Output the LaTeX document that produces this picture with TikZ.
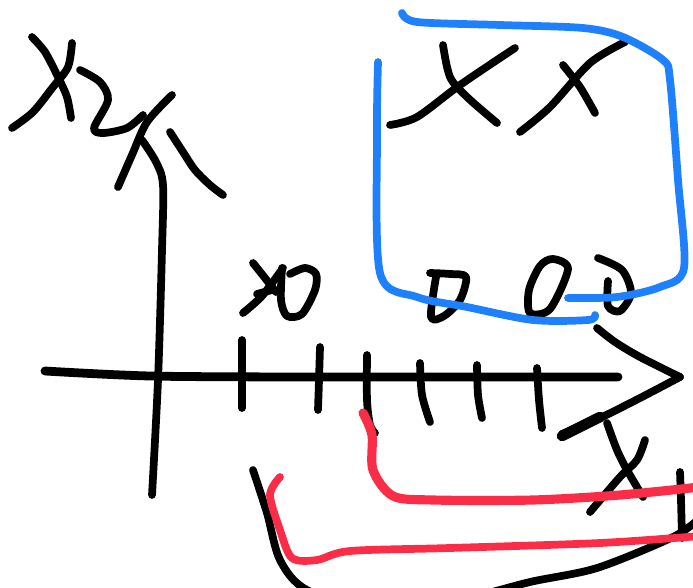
\documentclass[tikz,border=0pt]{standalone}
\usepackage{tikz}

\definecolor{penblue}{RGB}{30,128,250}
\definecolor{penred}{RGB}{250,45,72}

\begin{document}
\begin{tikzpicture}[x=0.02cm,y=-0.02cm,
  pen/.style={line width=4.4pt,line cap=round,line join=round},
  bluepen/.style={pen,penblue},
  redpen/.style={pen,penred}]
  \useasboundingbox (0,0) rectangle (693,588);
  \clip (0,0) rectangle (693,588);

  \draw[pen] plot[smooth] coordinates {(32,37) (45,52) (58,77) (67,97) (71,118)};
  \draw[pen] plot[smooth] coordinates {(72,43) (68,67) (53,87) (33,112) (12,128)};
  \draw[pen] plot[smooth] coordinates {(80,70) (100,82) (108,100) (94,128) (103,133) (127,128) (143,115)};

  \draw[pen] plot[smooth] coordinates {(172,95) (147,122) (132,155) (118,187)};
  \draw[pen] plot[smooth] coordinates {(142,140) (156,162) (163,185) (162,250) (158,380) (152,495)};
  \draw[pen] plot[smooth] coordinates {(170,132) (183,152) (195,170) (210,185) (223,195)};

  \draw[pen,line width=5pt] plot[smooth] coordinates {(45,371) (150,376) (300,377) (450,377) (618,377)};
  \draw[pen] plot[smooth] coordinates {(597,328) (615,342) (640,357) (680,377)};
  \draw[pen] plot[smooth] coordinates {(680,377) (640,398) (600,418) (562,434)};
  \draw[pen,line width=6pt] (600,417) -- (562,436);

  \draw[pen] (242,340) -- (242,408);
  \draw[pen] plot[smooth] coordinates {(320,347) (319,380) (318,410)};
  \draw[pen] plot[smooth] coordinates {(367,355) (367,400) (370,425) (375,433)};
  \draw[pen] plot[smooth] coordinates {(420,363) (422,395) (430,422)};
  \draw[pen] plot[smooth] coordinates {(477,365) (478,395) (482,418)};
  \draw[pen] plot[smooth] coordinates {(537,368) (539,400) (542,428)};

  \draw[pen] plot[smooth] coordinates {(253,263) (265,278) (276,292)};
  \draw[pen] plot[smooth] coordinates {(243,313) (262,296) (283,268)};
  \draw[pen] plot[smooth] coordinates {(257,294) (272,290)};
  \draw[pen] plot[smooth] coordinates {(282,268) (281,300) (287,316) (302,314) (315,290) (316,274) (305,268) (290,274)};

  \draw[pen] plot[smooth] coordinates {(443,45) (450,77) (467,97) (497,123)};
  \draw[pen] plot[smooth] coordinates {(515,48) (460,85) (417,117) (390,125)};
  \draw[pen] plot[smooth] coordinates {(563,65) (580,87) (595,113)};
  \draw[pen] plot[smooth] coordinates {(625,42) (590,63) (550,107) (520,132)};

  \draw[pen] plot[smooth] coordinates {(430,273) (450,274) (466,277) (460,300) (444,316) (431,317) (436,277)};
  \draw[pen] plot[smooth cycle] coordinates {(553,259) (568,269) (550,309) (530,313) (529,290) (540,266)};
  \draw[pen] plot[smooth] coordinates {(598,258) (622,270) (631,293) (620,311) (608,306) (608,281)};

  \draw[bluepen] plot[smooth] coordinates {(402,13) (417,22) (500,25) (583,28) (623,37) (663,60) (670,80) (678,180) (684,268) (660,287) (617,297) (568,298)};
  \draw[bluepen] plot[smooth] coordinates {(378,62) (377,133) (380,273) (417,297) (467,307) (533,320) (588,320) (595,315)};

  \draw[pen] plot[smooth] coordinates {(607,423) (617,450) (627,470) (643,497)};
  \draw[pen] plot[smooth] coordinates {(645,440) (637,460) (620,477) (590,512)};
  \draw[pen] plot[smooth] coordinates {(680,472) (681,500) (682,538)};

  \draw[pen] plot[smooth] coordinates {(253,470) (267,513) (280,560) (307,590) (380,612) (460,600) (530,582) (597,568) (673,537) (700,518)};

  \draw[redpen,line width=5.2pt] plot[smooth] coordinates {(363,413) (372,435) (373,470) (393,496) (433,500) (533,500) (620,495) (700,487)};
  \draw[redpen] plot[smooth] coordinates {(280,477) (270,495) (280,530) (292,558) (317,560) (350,551) (450,548) (600,543) (700,536)};
\end{tikzpicture}
\end{document}
